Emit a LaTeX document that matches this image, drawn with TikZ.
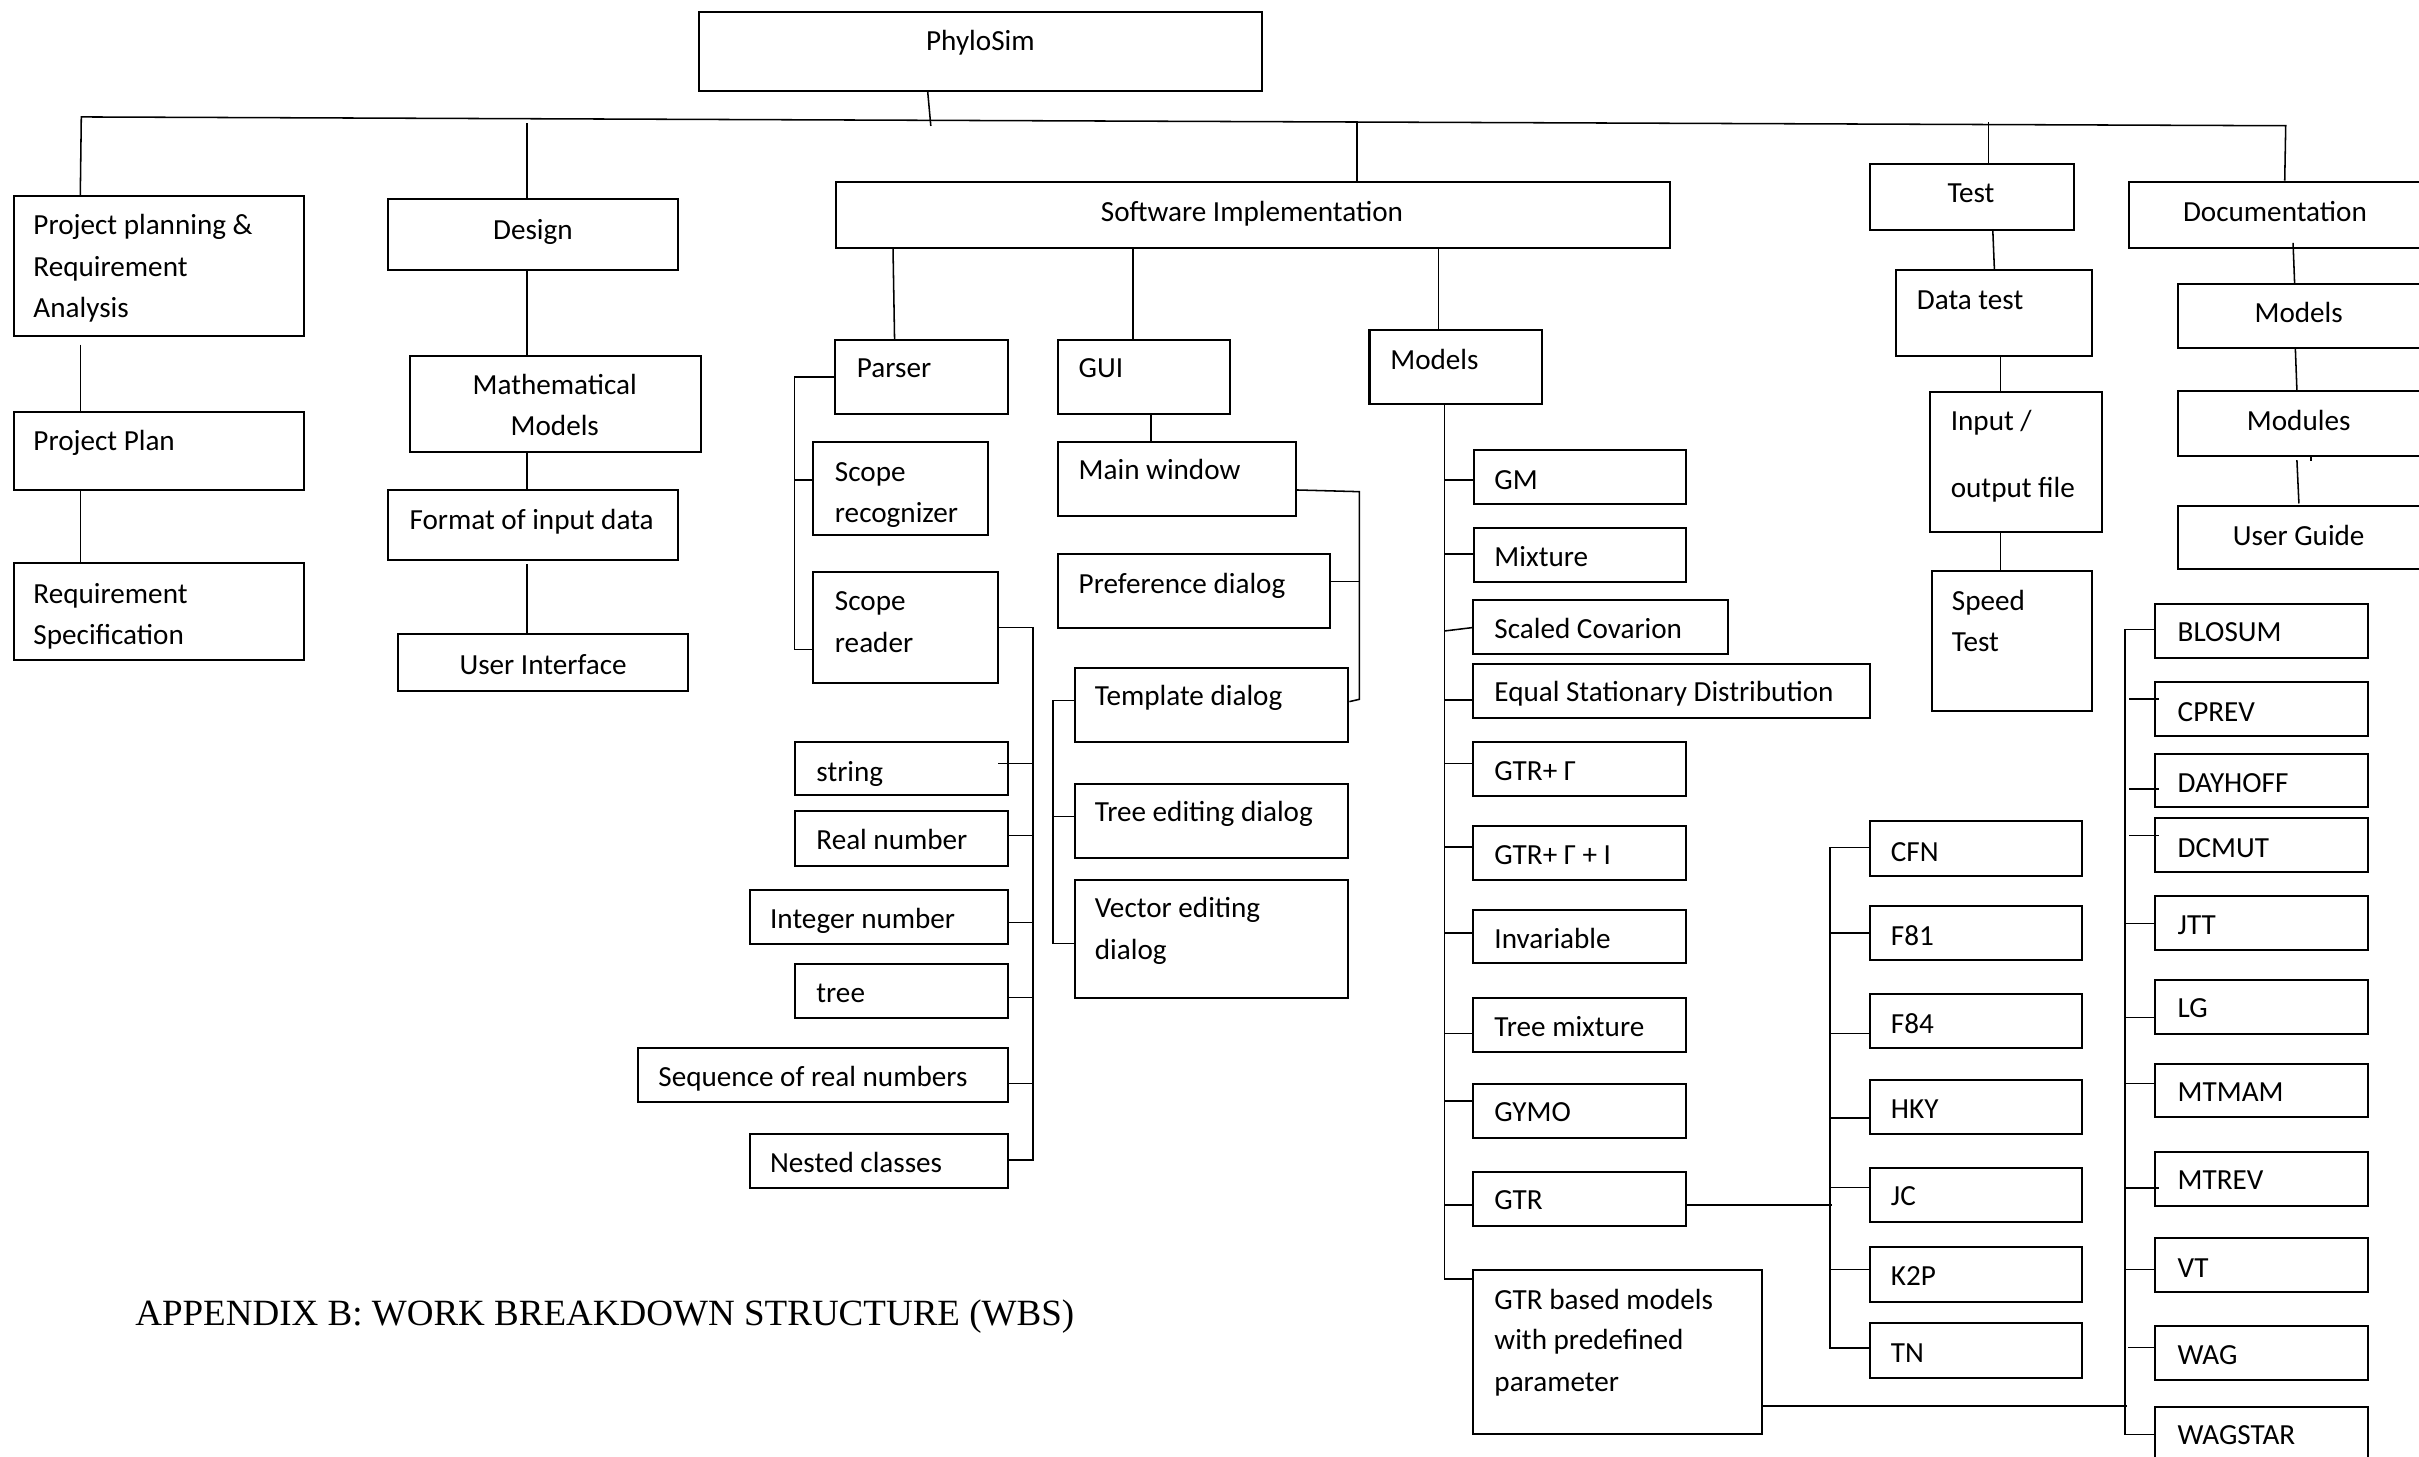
\documentclass[tikz,border=0pt]{standalone}
\usepackage{fontspec}
\setmainfont{Carlito}
\newfontfamily\titlefont{Liberation Serif}
\usetikzlibrary{fit,calc}
\tikzset{
  bx/.style={draw, line width=1.3pt, inner sep=0pt, rectangle},
  cn/.style={line width=1pt},
  tx/.style={inner sep=0pt, font=\fontsize{18.9}{27}\selectfont, anchor=base west},
  tc/.style={tx, anchor=base},
}
\newcommand\wbsbox[5]{\node[bx, fit={(#2,#3) (#4,#5)}] (#1) {};}
\begin{document}
\begin{tikzpicture}[x=1pt,y=-1pt]
\useasboundingbox (0,0) rectangle (1568,944);
\fill[white] (0,0) rectangle (1568,944);
\clip (0,0) rectangle (1568,944);

% ---------- boxes ----------
\wbsbox{phylo}{453}{8}{818}{59}
\wbsbox{ppra}{9}{127}{197}{217.5}
\wbsbox{pplan}{9}{267}{197}{317.5}
\wbsbox{reqspec}{9}{365}{197}{427.5}
\wbsbox{design}{251.5}{129.3}{439.7}{175}
\wbsbox{math}{265.5}{230.6}{454.2}{293}
\wbsbox{format}{251.5}{317.5}{439.7}{363}
\wbsbox{ui}{258}{411}{446}{448}
\wbsbox{si}{541.8}{117.8}{1082.8}{160.6}
\wbsbox{parser}{541}{220.4}{653.5}{268.2}
\wbsbox{scoperec}{527}{286.5}{640.5}{347}
\wbsbox{scoperead}{527}{370.5}{647}{443}
\wbsbox{string}{515.6}{481}{653.5}{515.6}
\wbsbox{realnum}{515.6}{526}{653.5}{561.5}
\wbsbox{intnum}{486}{576.6}{653.5}{612}
\wbsbox{tree}{515.6}{625}{653.5}{659.6}
\wbsbox{seq}{413.4}{679.3}{653.5}{714.3}
\wbsbox{nested}{486}{735}{653.5}{770}
\wbsbox{gui}{685.6}{220.4}{797.3}{268.2}
\wbsbox{mainwin}{685.6}{286.5}{840}{334.5}
\wbsbox{pref}{685.6}{359}{862}{407}
\wbsbox{templ}{697}{433}{874}{481}
\wbsbox{treeed}{697}{508}{874}{556}
\wbsbox{vector}{697}{570.6}{874}{647}
\wbsbox{models}{887.7}{213.9}{999.6}{261.9}
\wbsbox{gm}{955.3}{291.7}{1093}{326.7}
\wbsbox{mixture}{955.3}{342}{1093}{377}
\wbsbox{scaled}{955.1}{389}{1120}{424}
\wbsbox{equal}{955.1}{430.4}{1212}{465.6}
\wbsbox{gtrg}{955.1}{481}{1093}{516}
\wbsbox{gtrgi}{955.1}{535.7}{1093}{570.2}
\wbsbox{invar}{955.1}{590}{1093}{624.5}
\wbsbox{treemix}{955.1}{646.7}{1093}{682}
\wbsbox{gymo}{955.1}{702.6}{1093}{737.4}
\wbsbox{gtr}{955.1}{759.7}{1093}{794.4}
\wbsbox{gtrbased}{955.1}{823}{1142}{929.3}
\wbsbox{cfn}{1212}{532}{1349.6}{567.6}
\wbsbox{f81}{1212}{587.3}{1349.6}{622.3}
\wbsbox{f84}{1212}{644}{1349.6}{679}
\wbsbox{hky}{1212}{700}{1349.6}{734.8}
\wbsbox{jc}{1212}{757}{1349.6}{791.8}
\wbsbox{k2p}{1212}{808.6}{1349.6}{844}
\wbsbox{tn}{1212}{857.8}{1349.6}{893}
\wbsbox{test}{1211.8}{106.2}{1344.6}{149.1}
\wbsbox{datatest}{1228.7}{174.9}{1355.9}{230.7}
\wbsbox{inout}{1251}{254}{1362.6}{344.8}
\wbsbox{speed}{1252}{370.4}{1355.7}{461.1}
\wbsbox{doc}{1380.2}{117.8}{1600}{160.8}
\wbsbox{dmodels}{1411.7}{184}{1600}{225.5}
\wbsbox{modules}{1411.7}{253.5}{1600}{295.5}
\wbsbox{uguide}{1411.7}{328}{1600}{369.1}
\wbsbox{blosum}{1397}{391.5}{1534.8}{426.3}
\wbsbox{cprev}{1397}{442}{1534.8}{477}
\wbsbox{dayhoff}{1397}{488.5}{1534.8}{523.4}
\wbsbox{dcmut}{1397}{530}{1534.8}{565}
\wbsbox{jtt}{1397}{580.7}{1534.8}{615.6}
\wbsbox{lg}{1397}{635}{1534.8}{670}
\wbsbox{mtmam}{1397}{689.4}{1534.8}{724.3}
\wbsbox{mtrev}{1397}{746.7}{1534.8}{781.7}
\wbsbox{vt}{1397}{802.7}{1534.8}{837.2}
\wbsbox{wag}{1397}{859.5}{1534.8}{894.5}
\wbsbox{wagstar}{1397}{911.8}{1534.8}{960}

% ---------- texts ----------
\node[tc] (t-phylo) at (635.5,32.5) {PhyloSim};
\node[tx] (t-ppra1) at (21.5,152) {Project planning \&};
\node[tx] (t-ppra2) at (21.5,179) {Requirement};
\node[tx] (t-ppra3) at (21.5,206) {Analysis};
\node[tx] (t-pplan) at (21.5,292) {Project Plan};
\node[tx] (t-req1) at (21.5,391) {Requirement};
\node[tx] (t-req2) at (21.5,418) {Specification};
\node[tc] (t-design) at (345.4,155) {Design};
\node[tc] (t-math1) at (359.6,255.5) {Mathematical};
\node[tc] (t-math2) at (359.6,282.5) {Models};
\node[tc] (t-format) at (344.6,343) {Format of input data};
\node[tc] (t-ui) at (352,437) {User Interface};
\node[tc] (t-si) at (811.5,143.5) {Software Implementation};
\node[tx] (t-parser) at (555.3,245) {Parser};
\node[tx] (t-sr1) at (541,312) {Scope};
\node[tx] (t-sr2) at (541,339) {recognizer};
\node[tx] (t-sd1) at (541,396) {Scope};
\node[tx] (t-sd2) at (541,423) {reader};
\node[tx] (t-string) at (529,506.5) {string};
\node[tx] (t-realnum) at (529,550.5) {Real number};
\node[tx] (t-intnum) at (499,602) {Integer number};
\node[tx] (t-tree) at (529,649.6) {tree};
\node[tx] (t-seq) at (426.6,704) {Sequence of real numbers};
\node[tx] (t-nested) at (499,760) {Nested classes};
\node[tx] (t-gui) at (699,245) {GUI};
\node[tx] (t-mainwin) at (699,311) {Main window};
\node[tx] (t-pref) at (699,384.6) {Preference dialog};
\node[tx] (t-templ) at (709.5,457.6) {Template dialog};
\node[tx] (t-treeed) at (709.5,532.8) {Tree editing dialog};
\node[tx] (t-vec1) at (709.5,595) {Vector editing};
\node[tx] (t-vec2) at (709.5,622) {dialog};
\node[tx] (t-models) at (901,239.4) {Models};
\node[tx] (t-gm) at (968.5,317) {GM};
\node[tx] (t-mixture) at (968.5,367) {Mixture};
\node[tx] (t-scaled) at (968.5,413.8) {Scaled Covarion};
\node[tx] (t-equal) at (968.5,455) {Equal Stationary Distribution};
\node[tx] (t-gtrg) at (968.5,506) {GTR+ Γ};
\node[tx] (t-gtrgi) at (968.5,560.4) {GTR+ Γ + I};
\node[tx] (t-invar) at (968.5,615) {Invariable};
\node[tx] (t-treemix) at (968.5,672) {Tree mixture};
\node[tx] (t-gymo) at (968.5,726.8) {GYMO};
\node[tx] (t-gtr) at (968.5,784.3) {GTR};
\node[tx] (t-gb1) at (968.5,848.7) {GTR based models};
\node[tx] (t-gb2) at (968.5,875) {with predefined};
\node[tx] (t-gb3) at (968.5,902) {parameter};
\node[tx] (t-cfn) at (1225.5,558.3) {CFN};
\node[tx] (t-f81) at (1225.5,612.6) {F81};
\node[tx] (t-f84) at (1225.5,669.6) {F84};
\node[tx] (t-hky) at (1225.5,724.7) {HKY};
\node[tx] (t-jc) at (1225.5,781.7) {JC};
\node[tx] (t-k2p) at (1225.5,833) {K2P};
\node[tx] (t-tn) at (1225.5,882.9) {TN};
\node[tc] (t-test) at (1277.6,131.5) {Test};
\node[tx] (t-datatest) at (1242.3,200.7) {Data test};
\node[tx] (t-io1) at (1264.3,278.9) {Input /};
\node[tx] (t-io2) at (1264.3,322.8) {output file};
\node[tx] (t-sp1) at (1265,395.5) {Speed};
\node[tx] (t-sp2) at (1265,422.5) {Test};
\node[tc] (t-doc) at (1474.6,143.7) {Documentation};
\node[tc] (t-dmodels) at (1490,209) {Models};
\node[tc] (t-modules) at (1490,279) {Modules};
\node[tc] (t-uguide) at (1490,353.3) {User Guide};
\node[tx] (t-blosum) at (1411.4,416) {BLOSUM};
\node[tx] (t-cprev) at (1411.4,467.5) {CPREV};
\node[tx] (t-dayhoff) at (1411.4,514) {DAYHOFF};
\node[tx] (t-dcmut) at (1411.4,556) {DCMUT};
\node[tx] (t-jtt) at (1411.4,605.8) {JTT};
\node[tx] (t-lg) at (1411.4,659.8) {LG};
\node[tx] (t-mtmam) at (1411.4,714.2) {MTMAM};
\node[tx] (t-mtrev) at (1411.4,771.2) {MTREV};
\node[tx] (t-vt) at (1411.4,827.8) {VT};
\node[tx] (t-wag) at (1411.4,884.2) {WAG};
\node[tx] (t-wagstar) at (1411.4,936) {WAGSTAR};
\node[inner sep=0pt, anchor=base west, font=\titlefont\fontsize{24}{28}\selectfont] (title) at (87.5,859.5) {APPENDIX B: WORK BREAKDOWN STRUCTURE (WBS)};

% ---------- connectors ----------
\coordinate (tl) at (52.7,75.8);
\coordinate (tr) at (1481.6,81.5);
\draw[cn] ([xshift=43.7pt]ppra.north west) -- (tl) -- (tr) -- ([xshift=101.4pt]doc.north west);
\draw[cn] ([xshift=149pt]phylo.south west) -- ++(2,22);
\draw[cn] ([xshift=90.9pt]design.north west) -- ++(0,-49);
\draw[cn] ([xshift=338.4pt]si.north west) -- ++(0,-39);
\draw[cn] ([xshift=77.8pt]test.north west) -- ++(0,-26.4);

% project planning column
\draw[cn] ([xshift=43.7pt,yshift=-5.3pt]ppra.south west) -- ([xshift=43.7pt]pplan.north west);
\draw[cn] ([xshift=43.7pt]pplan.south west) -- ([xshift=43.7pt]reqspec.north west);

% design column
\draw[cn] ([xshift=90.9pt]design.south west) -- ([xshift=76.9pt]math.north west);
\draw[cn] ([xshift=76.9pt]math.south west) -- ([xshift=90.9pt]format.north west);
\draw[cn] ([xshift=90.9pt,yshift=-2.2pt]format.south west) -- ([xshift=84.4pt]ui.north west);

% software implementation
\draw[cn] ([xshift=37.7pt]si.south west) -- ([xshift=39.5pt]parser.north west);
\draw[cn] ([xshift=193.2pt]si.south west) -- ([xshift=49.4pt]gui.north west);
\draw[cn] ([xshift=391.2pt]si.south west) -- ([xshift=45.3pt]models.north west);

% parser
\draw[cn] (parser.west) -- ++(-25.5,0) |- ([yshift=-14.25pt]scoperead.west);
\draw[cn] ([yshift=5.75pt]scoperec.west) -- ++(-11.5,0);
\draw[cn] (scoperead.east) -- ++(22,0) |- ([yshift=0.5pt]nested.east);
\draw[cn] ([xshift=-7pt,yshift=3.3pt]string.east) -- ++(22.5,0);
\draw[cn] ([yshift=2.15pt]realnum.east) -- ++(15.5,0);
\draw[cn] ([yshift=-3.7pt]intnum.east) -- ++(15.5,0);
\draw[cn] ([yshift=-4.3pt]tree.east) -- ++(15.5,0);
\draw[cn] ([yshift=-5.6pt]seq.east) -- ++(15.5,0);

% GUI
\draw[cn] ([xshift=61.1pt]gui.south west) -- ([xshift=61.1pt]mainwin.north west);
\draw[cn] ([yshift=-7.1pt]mainwin.east) -- ++(40.5,1.1) -- ++(0,134.6) -- ([yshift=2.2pt]templ.east);
\draw[cn] ([yshift=6pt]pref.east) -- ++(18.5,0);
\draw[cn] ([yshift=2.8pt]templ.west) -- ++(-13.8,0) |- ([yshift=-2.8pt]vector.west);
\draw[cn] ([yshift=2.6pt]treeed.west) -- ++(-13.8,0);

% models column
\draw[cn] ([xshift=49.3pt]models.south west) |- ([yshift=-6.7pt]gtrbased.north west);
\draw[cn] ([yshift=-1.8pt]gm.west) -- ++(-18.3,0);
\draw[cn] ([yshift=0.5pt]mixture.west) -- ++(-18.3,0);
\draw[cn] ([yshift=-0.3pt]scaled.west) -- ++(-18.1,2.2);
\draw[cn] ([yshift=-5.7pt]equal.west) -- ++(-18.1,0);
\draw[cn] ([yshift=3.7pt]gtrg.west) -- ++(-18.1,0);
\draw[cn] ([yshift=3.95pt]gtrgi.west) -- ++(-18.1,0);
\draw[cn] ([yshift=2.55pt]invar.west) -- ++(-18.1,0);
\draw[cn] ([yshift=-5.65pt]treemix.west) -- ++(-18.1,0);
\draw[cn] ([yshift=6.3pt]gymo.west) -- ++(-18.1,0);
\draw[cn] ([yshift=-3.95pt]gtr.west) -- ++(-18.1,0);

% GTR children
\draw[cn] ([yshift=-3.95pt]gtr.east) -- ++(94,0);
\draw[cn] ([yshift=0.6pt]cfn.west) -- ++(-25,0) |- ([yshift=1.6pt]tn.west);
\draw[cn] (f81.west) -- ++(-25,0);
\draw[cn] ([yshift=-8.5pt]f84.west) -- ++(-25,0);
\draw[cn] ([yshift=-7.3pt]hky.west) -- ++(-25,0);
\draw[cn] ([yshift=4.7pt]jc.west) -- ++(-25,0);
\draw[cn] ([yshift=3.4pt]k2p.west) -- ++(-25,0);

% GTR based children
\draw[cn] ([yshift=-35.25pt]gtrbased.east) -- ++(236,0);
\draw[cn] ([yshift=0.9pt]blosum.west) -- ++(-19,0) |- ([yshift=6.1pt]wagstar.west);
\draw[cn] ([xshift=3pt,yshift=6.4pt]cprev.west) -- ++(-19.3,0);
\draw[cn] ([xshift=3pt,yshift=-5.65pt]dayhoff.west) -- ++(-19.3,0);
\draw[cn] ([xshift=3pt,yshift=6pt]dcmut.west) -- ++(-19.3,0);
\draw[cn] ([yshift=-0.55pt]jtt.west) -- ++(-19,0);
\draw[cn] ([yshift=-6.9pt]lg.west) -- ++(-19,0);
\draw[cn] ([yshift=4.65pt]mtmam.west) -- ++(-19,0);
\draw[cn] ([xshift=3pt,yshift=-5.8pt]mtrev.west) -- ++(-22,0);
\draw[cn] ([yshift=-2.95pt]vt.west) -- ++(-19,0);
\draw[cn] ([yshift=3.6pt]wag.west) -- ++(-17,0);

% test column
\draw[cn] ([xshift=80.6pt]test.south west) -- ([xshift=64.7pt]datatest.north west);
\draw[cn] ([xshift=68.8pt]datatest.south west) -- ([xshift=46.5pt]inout.north west);
\draw[cn] ([xshift=46.5pt]inout.south west) -- ([xshift=45.5pt]speed.north west);

% documentation column
\draw[cn] ([xshift=106.8pt,yshift=4pt]doc.south west) -- ([xshift=76.3pt]dmodels.north west);
\draw[cn] ([xshift=76.8pt]dmodels.south west) -- ([xshift=77.8pt]modules.north west);
\draw[cn] ([xshift=77.8pt,yshift=-2.1pt]modules.south west) -- ++(1.3,28.1);
\draw[cn] ([xshift=86.8pt]modules.south west) -- ++(0,2.5);
\end{tikzpicture}
\end{document}
